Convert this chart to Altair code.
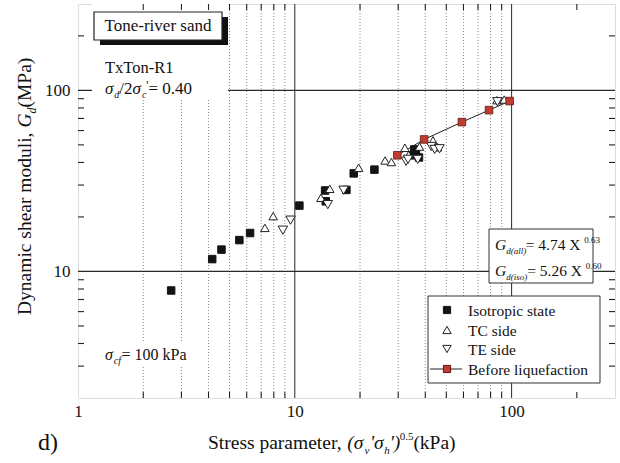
import altair as alt
import pandas as pd

# ---------------- data ----------------
iso_x = [2.69, 4.16, 4.59, 5.55, 6.22, 10.5, 13.8, 13.9, 17.3, 18.7, 23.3, 34.8, 36.2, 37.4, 35.6]
iso_y = [7.85, 11.7, 13.2, 14.9, 16.3, 23.1, 28.0, 24.4, 28.2, 34.8, 36.5, 43.8, 45.6, 42.6, 47.2]
tc_x = [7.28, 7.95, 13.2, 14.5, 19.7, 26.1, 27.9, 32.2, 33.5, 37.6, 43.4, 45.5, 85.6, 92.5]
tc_y = [17.4, 20.2, 25.5, 28.6, 37.4, 41.0, 40.2, 48.2, 44.0, 48.9, 53.0, 48.5, 88.3, 89.0]
te_x = [8.81, 9.56, 14.2, 16.8, 32.6, 33.3, 36.9, 42.6, 44.2, 46.5, 86.0]
te_y = [16.9, 19.2, 23.4, 28.1, 40.6, 41.6, 41.6, 49.0, 47.2, 47.6, 86.6]
bl_x = [29.7, 39.5, 59.0, 78.7, 98.0]
bl_y = [43.8, 53.6, 66.8, 77.8, 87.3]

series = ["Isotropic state", "TC side", "TE side", "Before liquefaction"]
x_labels = [1, 10, 100]
y_labels = [10, 100]
x_minor = [2, 3, 4, 5, 6, 7, 8, 9, 20, 30, 40, 50, 60, 70, 80, 90]
x_major_grid = [10, 100]
y_major_grid = [10, 100]
x_ticks = x_minor + [200]
y_ticks = [3, 4, 5, 6, 7, 8, 9, 20, 30, 40, 50, 60, 70, 80, 90, 200]

# ---------------- layout ----------------
OX, OY = 78, 4          # plot origin on the page
W, H = 537, 394
SERIF = "Liberation Serif"
C_ISO, C_OPEN, C_RED = "#141414", "white", "#c23b30"

xs = alt.Scale(type="log", domain=[1, 300])
ys = alt.Scale(type="log", domain=[2, 300])

pts = pd.DataFrame({
    "x": iso_x + tc_x + te_x,
    "y": iso_y + tc_y + te_y,
    "s": [series[0]] * len(iso_x) + [series[1]] * len(tc_x) + [series[2]] * len(te_x),
})
red = pd.DataFrame({"x": bl_x, "y": bl_y})
one = pd.DataFrame({"a": [0]})

TW = {" ": 250, "'": 180, "(": 333, ")": 333, ",": 250, "-": 333, ".": 250, "/": 278, "=": 564,
      "A": 722, "B": 667, "C": 667, "D": 722, "G": 722, "I": 333, "M": 889, "P": 556, "R": 667,
      "S": 556, "T": 611, "X": 722,
      "a": 444, "b": 500, "c": 444, "d": 500, "e": 444, "f": 333, "g": 500, "h": 500, "i": 278,
      "k": 500, "l": 278, "m": 778, "n": 500, "o": 500, "p": 500, "q": 500, "r": 333, "s": 389,
      "t": 278, "u": 500, "v": 500, "x": 500, "y": 500, "σ": 550}


def tw(s, size):
    return sum(TW.get(c, 500) for c in s) * size / 1000.0


def rich(pieces, x0, y0, angle=0):
    """pieces: (text, size, italic, shift) ; x0,y0 absolute page coords of baseline start"""
    out = []
    off = 0.0
    for txt, size, italic, shift in pieces:
        if angle == 0:
            x, y = x0 + off, y0 + shift
        else:
            x, y = x0 + shift, y0 - off
        m = dict(text=txt, fontSize=size, font=SERIF, align="left", baseline="alphabetic",
                 color="#111", fontStyle="italic" if italic else "normal")
        if angle:
            m["angle"] = angle
        out.append(alt.Chart(one).mark_text(**m).encode(
            x=alt.value(x - OX), y=alt.value(y - OY)))
        off += tw(txt, size)
    return out


def box(x1, y1, x2, y2, fill="white", stroke=None, sw=1.0):
    m = dict(fill=fill)
    if stroke:
        m.update(stroke=stroke, strokeWidth=sw)
    else:
        m.update(strokeWidth=0)
    return alt.Chart(one).mark_rect(**m).encode(
        x=alt.value(x1 - OX), x2=alt.value(x2 - OX),
        y=alt.value(y1 - OY), y2=alt.value(y2 - OY))


# ---------------- grid lines ----------------
g_minor = alt.Chart(pd.DataFrame({"v": x_minor})).mark_rule(
    color="#7a7a7a", strokeWidth=0.9, strokeDash=[1, 2]).encode(
    x=alt.X("v:Q", scale=xs, axis=None))
g_vmaj = alt.Chart(pd.DataFrame({"v": x_major_grid})).mark_rule(
    color="#3a3a3a", strokeWidth=1.1).encode(x=alt.X("v:Q", scale=xs, axis=None))
g_hmaj = alt.Chart(pd.DataFrame({"v": y_major_grid})).mark_rule(
    color="#2a2a2a", strokeWidth=1.2).encode(y=alt.Y("v:Q", scale=ys, axis=None))

# ---------------- inward ticks ----------------
xt = pd.DataFrame({"v": x_ticks})
yt = pd.DataFrame({"v": y_ticks})
tick_style = dict(color="#222", strokeWidth=1.1)
t_bot = alt.Chart(xt).mark_rule(**tick_style).encode(
    x=alt.X("v:Q", scale=xs, axis=None), y=alt.value(H), y2=alt.value(H - 6))
t_top = alt.Chart(xt).mark_rule(**tick_style).encode(
    x=alt.X("v:Q", scale=xs, axis=None), y=alt.value(0), y2=alt.value(6))
t_left = alt.Chart(yt).mark_rule(**tick_style).encode(
    y=alt.Y("v:Q", scale=ys, axis=None), x=alt.value(0), x2=alt.value(6))
t_right = alt.Chart(yt).mark_rule(**tick_style).encode(
    y=alt.Y("v:Q", scale=ys, axis=None), x=alt.value(W), x2=alt.value(W - 6))

# ---------------- data marks ----------------
line = alt.Chart(red).mark_line(color="#222", strokeWidth=1).encode(
    x=alt.X("x:Q", scale=xs, axis=None), y=alt.Y("y:Q", scale=ys, axis=None))

points = alt.Chart(pts).mark_point(filled=True, strokeWidth=1, opacity=1).encode(
    x=alt.X("x:Q", scale=xs,
            axis=alt.Axis(values=x_labels, format="d", title=None, ticks=False, tickSize=0,
                          domain=False, grid=False, labelFlush=False, labelPadding=5,
                          labelFont=SERIF, labelFontSize=17, labelColor="#111", zindex=1)),
    y=alt.Y("y:Q", scale=ys,
            axis=alt.Axis(values=y_labels, format="d", title=None, ticks=False, tickSize=0,
                          domain=False, grid=False, labelPadding=8,
                          labelFont=SERIF, labelFontSize=17, labelColor="#111", zindex=1)),
    shape=alt.Shape("s:N", scale=alt.Scale(domain=series[:3],
                    range=["square", "triangle-up", "triangle-down"]), legend=None),
    fill=alt.Fill("s:N", scale=alt.Scale(domain=series[:3],
                  range=[C_ISO, C_OPEN, C_OPEN]), legend=None),
    stroke=alt.Stroke("s:N", scale=alt.Scale(domain=series[:3],
                      range=[C_ISO, "#222222", "#222222"]), legend=None),
    size=alt.Size("s:N", scale=alt.Scale(domain=series[:3], range=[56, 90, 90]), legend=None),
)

red_pts = alt.Chart(red).mark_point(shape="square", filled=True, size=58, fill=C_RED,
                                    stroke="#5a1a14", strokeWidth=0.8, opacity=1).encode(
    x=alt.X("x:Q", scale=xs, axis=None), y=alt.Y("y:Q", scale=ys, axis=None))

# ---------------- annotation boxes ----------------
bg_top = box(92, 4, 228, 98)
shadow = box(100, 17, 228, 45, fill="#111")
tone = box(94, 12, 222, 40, fill="white", stroke="#222", sw=1.2)
tone_t = alt.Chart(one).mark_text(text="Tone-river sand", font=SERIF, fontSize=17,
                                  color="#111", align="center", baseline="alphabetic").encode(
    x=alt.value(158 - OX), y=alt.value(31 - OY))
bg_cf = box(100, 343, 196, 366)
eq_box = box(489, 229, 593, 283, fill="white", stroke="#333", sw=1.0)

# ---------------- legend (boxed key) ----------------
leg_box = box(428, 296, 600, 383, fill="white", stroke="#333", sw=1.0)
leg_rows = [310, 330, 349, 369]
leg_sym = [("square", C_ISO, C_ISO, 52), ("triangle-up", C_OPEN, "#222", 70),
           ("triangle-down", C_OPEN, "#222", 70), ("square", C_RED, "#5a1a14", 52)]
legend_layers = [leg_box]
legend_layers.append(alt.Chart(one).mark_rule(color="#222", strokeWidth=1).encode(
    x=alt.value(430 - OX), x2=alt.value(462 - OX),
    y=alt.value(leg_rows[3] - OY), y2=alt.value(leg_rows[3] - OY)))
for (shp, fc, sc, sz), ry, lab in zip(leg_sym, leg_rows, series):
    legend_layers.append(alt.Chart(one).mark_point(
        shape=shp, filled=True, fill=fc, stroke=sc, strokeWidth=1, size=sz, opacity=1).encode(
        x=alt.value(447 - OX), y=alt.value(ry - OY)))
    legend_layers.append(alt.Chart(one).mark_text(
        text=lab, font=SERIF, fontSize=15.5, color="#111", align="left",
        baseline="alphabetic").encode(x=alt.value(468 - OX), y=alt.value(ry + 5.5 - OY)))

texts = []
texts += rich([("TxTon-R1", 16.5, False, 0)], 105, 73)
texts += rich([("σ", 17, True, 0), ("d", 10, True, 4), ("/2", 17, False, 0),
               ("σ", 17, True, 0), ("c", 10, True, 4), ("'", 12, False, -5),
               ("= 0.40", 17, False, 0)], 105, 94)
texts += rich([("σ", 16, True, 0), ("cf", 10, True, 4), (" = 100 kPa", 16, False, 0)], 105, 360)
texts += rich([("G", 15.5, True, 0), ("d(all)", 9, True, 4), (" = 4.74 X", 15.5, False, 0),
               ("0.63", 9, False, -7)], 495, 250)
texts += rich([("G", 15.5, True, 0), ("d(iso)", 9, True, 4), (" = 5.26 X", 15.5, False, 0),
               ("0.60", 9, False, -7)], 495, 276)
# axis titles
texts += rich([("Stress parameter, ", 19.5, False, 0), ("(σ", 19.5, True, 0), ("v", 11, True, 5),
               ("'σ", 19.5, True, 0), ("h", 11, True, 5), ("')", 19.5, True, 0),
               ("0.5", 11, False, -9), (" (kPa)", 19.5, False, 0)], 208, 449)
texts += rich([("Dynamic shear moduli, ", 19.5, False, 0), ("G", 19.5, True, 0),
               ("d", 12, True, 5), (" (MPa)", 19.5, False, 0)], 31, 315, angle=270)
texts += rich([("d)", 24, False, 0)], 38, 450)

chart = alt.layer(
    g_minor, g_vmaj, g_hmaj,
    bg_top, shadow, tone, tone_t, bg_cf, eq_box,
    line, points, red_pts,
    *legend_layers,
    t_bot, t_top, t_left, t_right,
    *texts,
).resolve_axis(x="independent", y="independent").properties(
    width=W, height=H,
    autosize=alt.AutoSizeParams(type="none"),
    padding={"left": OX, "top": OY, "right": 620 - OX - W, "bottom": 463 - OY - H},
).configure_view(stroke="#222", strokeWidth=1.8).configure(background="white")

chart.save("out.html", embed_options={"renderer": "svg", "actions": False})
